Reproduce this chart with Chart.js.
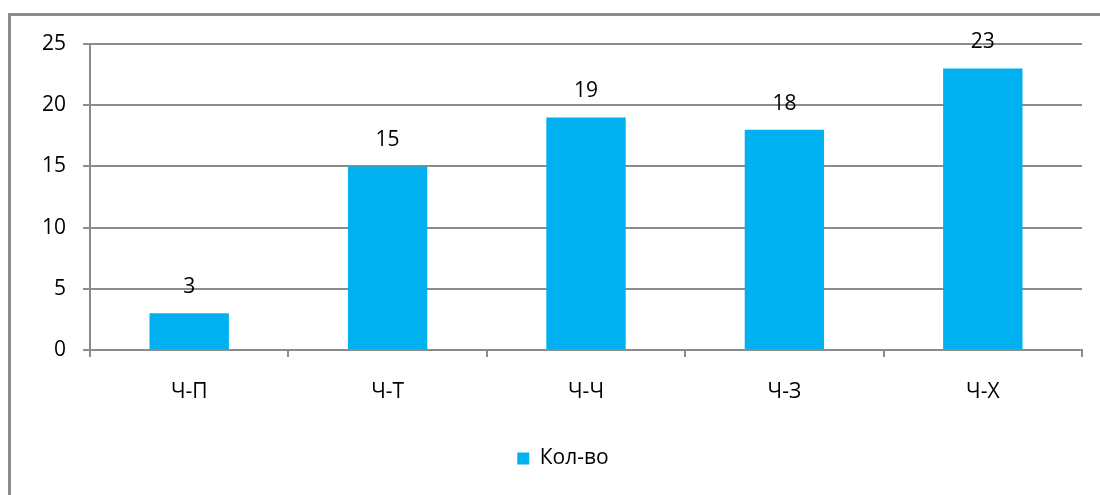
<!DOCTYPE html>
<html>
<head>
<meta charset="utf-8">
<script src="https://cdn.jsdelivr.net/npm/chart.js@4"></script>
<style>
  body { margin: 0; background: #fff; }
  #wrap { position: relative; width: 1100px; height: 495px; overflow: hidden; }
  #frame { position: absolute; left: 8px; top: 13px; width: 1200px; height: 600px; border: 3px solid #8c8c8c; }
  #c { position: absolute; left: 0; top: 0; }
</style>
</head>
<body>
<div id="wrap">
  <div id="frame"></div>
  <canvas id="c" width="1100" height="495"></canvas>
</div>
<script>
    // данные
    const categories = ['Ч-П', 'Ч-Т', 'Ч-Ч', 'Ч-З', 'Ч-Х'];
    const counts = [3, 15, 19, 18, 23];
    const seriesName = 'Кол-во';
    const yTicks = [0, 5, 10, 15, 20, 25];

    const fontFamily = '"Open Sans", "Noto Sans", sans-serif';
    const fontSize = 21;
    const gridColor = '#8c8c8c';

    // подписи значений над столбиками
    const valueLabels = {
        id: 'valueLabels',
        beforeDraw(chart) {
            // легенда в оригинале чуть правее центра (рамка шире картинки)
            let lg = chart.legend;
            if (lg && !lg._shifted) {
                lg.left += 22;
                lg.right += 22;
                lg._shifted = true;
            }
        },
        afterDatasetsDraw(chart) {
            let ctx = chart.ctx;
            ctx.save();
            ctx.fillStyle = '#000';
            ctx.font = fontSize + 'px ' + fontFamily;
            ctx.textAlign = 'center';
            ctx.textBaseline = 'middle';
            chart.getDatasetMeta(0).data.forEach((bar, i) => {
                ctx.fillText(counts[i], bar.x, bar.y - 26);
            });
            ctx.restore();
        }
    };

    let chart = new Chart(document.getElementById('c'), {
        type: 'bar',
        data: {
            labels: categories,
            datasets: [{
                label: seriesName,
                data: counts,
                backgroundColor: '#00b0f0',
                borderWidth: 0,
                barPercentage: 0.4,
                categoryPercentage: 1
            }]
        },
        options: {
            responsive: false,
            animation: false,
            layout: { padding: { left: 0, top: 44, right: 18, bottom: 16 } },
            plugins: {
                tooltip: { enabled: false },
                legend: {
                    position: 'bottom',
                    labels: {
                        color: '#000',
                        font: { family: fontFamily, size: fontSize },
                        boxWidth: 12,
                        boxHeight: 12,
                        padding: 10
                    }
                }
            },
            scales: {
                x: {
                    offset: true,
                    afterFit: s => { s.height = 88; },
                    grid: {
                        offset: true,
                        drawOnChartArea: false,
                        drawTicks: true,
                        tickLength: 7,
                        color: gridColor,
                        lineWidth: 2
                    },
                    border: { display: true, color: gridColor, width: 2 },
                    ticks: {
                        color: '#000',
                        padding: 22,
                        font: { family: fontFamily, size: fontSize }
                    }
                },
                y: {
                    min: 0,
                    max: 25,
                    afterFit: s => { s.width = 90; },
                    afterBuildTicks: s => { s.ticks = yTicks.map(v => ({ value: v })); },
                    grid: {
                        color: gridColor,
                        lineWidth: 2,
                        tickLength: 7
                    },
                    border: { display: true, color: gridColor, width: 2 },
                    ticks: {
                        color: '#000',
                        padding: 17,
                        font: { family: fontFamily, size: fontSize }
                    }
                }
            }
        },
        plugins: [valueLabels]
    });
</script>
</body>
</html>
